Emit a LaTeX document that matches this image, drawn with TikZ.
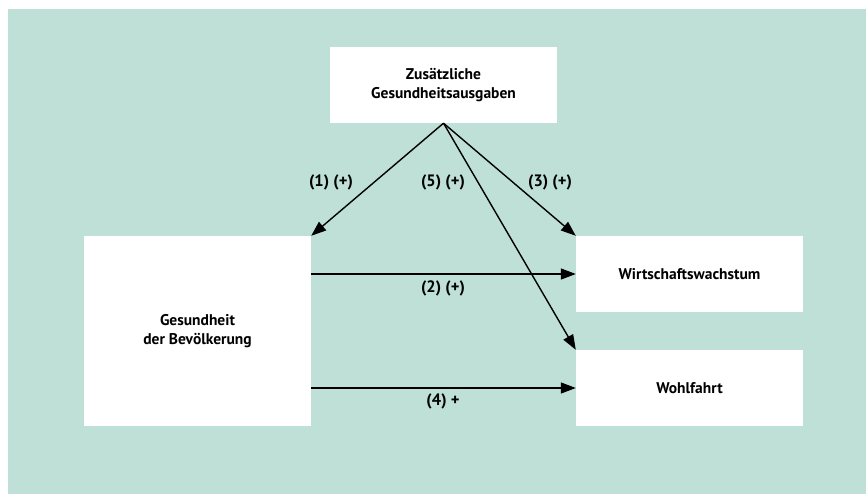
\documentclass[tikz,border=0pt]{standalone}
\usepackage{fontspec}
\setmainfont{PT Sans}
\usetikzlibrary{arrows.meta}
\definecolor{bgteal}{RGB}{190,224,214}
\begin{document}
\begin{tikzpicture}[x=1pt,y=-1pt,
  box/.style={fill=white,draw=none,inner sep=0pt,align=center,font=\fontsize{15.5}{19}\selectfont\bfseries},
  lbl/.style={inner sep=0pt,font=\fontsize{16.5}{18}\selectfont\bfseries},
  conn/.style={line width=1.4pt,-{Triangle[length=15pt,width=11pt]}}]
\useasboundingbox (0,0) rectangle (866,494);
\fill[bgteal] (8,9) rectangle (866,494);
\node[box,minimum width=227pt,minimum height=76pt] (top) at (443.5,85) {Zusätzliche\\Gesundheitsausgaben};
\node[box,minimum width=227pt,minimum height=190pt] (left) at (197.5,331) {Gesundheit\\der Bevölkerung};
\node[box,minimum width=227pt,minimum height=76pt] (ww) at (689.5,274) {Wirtschaftswachstum};
\node[box,minimum width=227pt,minimum height=76pt] (wf) at (689.5,388) {Wohlfahrt};
\draw[conn] (top.south) -- (left.north east);
\draw[conn] (top.south) -- (ww.north west);
\draw[conn] (top.south) -- (wf.north west);
\draw[conn] (left.east |- ww.west) -- (ww.west);
\draw[conn] (left.east |- wf.west) -- (wf.west);
\node[lbl] (l1) at (331,182) {(1) (+)};
\node[lbl] (l5) at (443,182) {(5) (+)};
\node[lbl] (l3) at (550,182) {(3) (+)};
\node[lbl] (l2) at (443,288) {(2) (+)};
\node[lbl] (l4) at (443,401) {(4) +};
\end{tikzpicture}
\end{document}
